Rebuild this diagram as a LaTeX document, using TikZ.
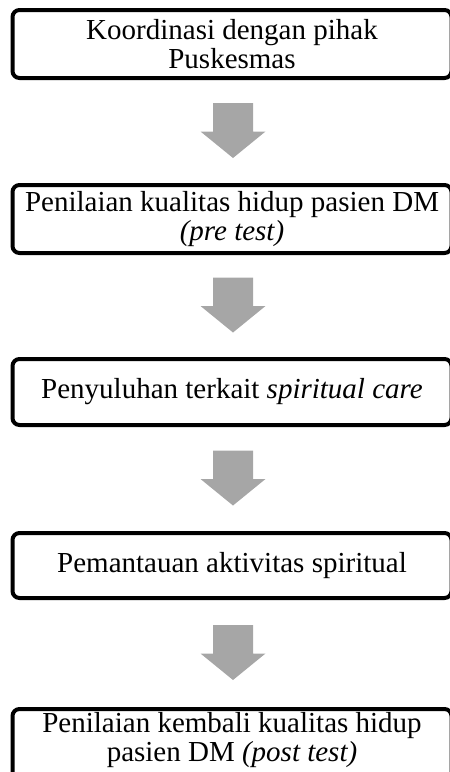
\documentclass[tikz,border=0pt]{standalone}
\usepackage{fontspec}
\setmainfont{Liberation Serif}
\usetikzlibrary{calc}

\begin{document}
\begin{tikzpicture}[
  x=1pt, y=1pt,
  stepbox/.style={
    draw=black, line width=4pt,
    rounded corners=7pt,
    minimum width=439pt, inner xsep=0pt, inner ysep=0pt,
    align=center, font=\fontsize{29}{29}\selectfont
  },
  blockarrow/.style={fill=black!35}
]
\useasboundingbox (0,0) rectangle (450,-772);
\clip (0,0) rectangle (450,-772);

% steps
\node[stepbox, minimum height=68pt] (b1) at (232,-44) {Koordinasi dengan pihak\\Puskesmas};
\node[stepbox, minimum height=68pt] (b2) at (232,-219) {Penilaian kualitas hidup pasien DM\\\textit{(pre test)}};
\node[stepbox, minimum height=66pt] (b3) at (232,-392) {Penyuluhan terkait \textit{spiritual care}};
\node[stepbox, minimum height=65pt] (b4) at (232,-565.5) {Pemantauan aktivitas spiritual};
\node[stepbox, anchor=north, text height=52pt, text depth=29pt] (b5) at (232,-707) {Penilaian kembali kualitas hidup\\pasien DM \textit{(post test)}};

% arrows between steps
\foreach \s/\t in {b1/b2, b2/b3, b3/b4, b4/b5}{
  \coordinate (m) at ($(\s.south)!0.5!(\t.north)+(1,0)$);
  \fill[blockarrow] ($(m)+(-20,28.5)$) -- ($(m)+(20,28.5)$) -- ($(m)+(20,0)$)
    -- ($(m)+(32.5,0)$) -- ($(m)+(0,-26.5)$) -- ($(m)+(-32.5,0)$)
    -- ($(m)+(-20,0)$) -- cycle;
}
\end{tikzpicture}
\end{document}
